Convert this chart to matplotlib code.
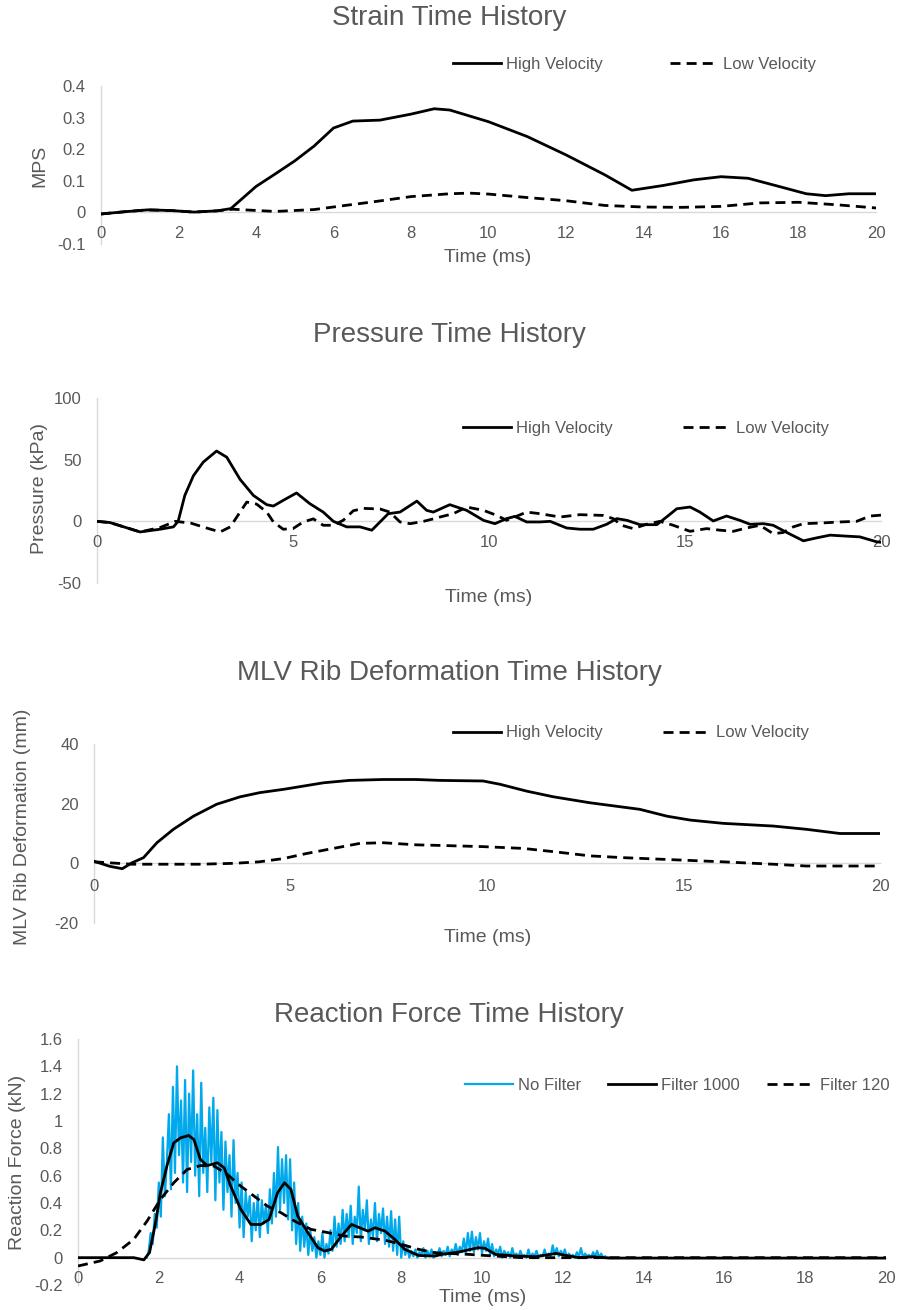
import numpy as np
import matplotlib
matplotlib.use("Agg")
import matplotlib.pyplot as plt
from matplotlib.transforms import Affine2D

plt.rcParams['font.family'] = ['Liberation Sans', 'DejaVu Sans']
plt.rcParams['axes.unicode_minus'] = False

TEXT = '#595959'
GRID = '#d9d9d9'
BLUE = '#00A8EC'

# ---------------- data ----------------
# Panel 1: Strain (MPS)
strain_t_high = [0, 0.6, 1.2, 1.8, 2.4, 3.0, 3.35, 4.0, 4.5, 5.0, 5.5, 6.0, 6.5, 7.2, 8.0, 8.6,
                 9.0, 10.0, 11.0, 12.0, 13.0, 13.7, 14.5, 15.3, 16.0, 16.7, 17.5, 18.2, 18.7, 19.3, 20.0]
strain_high = [-0.005, 0.002, 0.008, 0.006, 0.001, 0.005, 0.012, 0.082, 0.122, 0.163, 0.210, 0.267,
               0.289, 0.292, 0.311, 0.328, 0.324, 0.287, 0.240, 0.182, 0.119, 0.070, 0.085, 0.103,
               0.113, 0.108, 0.082, 0.059, 0.053, 0.059, 0.059]
strain_t_low = [0, 0.6, 1.2, 1.8, 2.4, 3.0, 3.4, 4.5, 5.5, 6.3, 7.0, 8.0, 9.0, 9.5, 10.0, 11.0,
                12.0, 13.0, 14.0, 15.0, 16.0, 17.0, 18.0, 19.0, 20.0]
strain_low = [-0.005, 0.002, 0.008, 0.006, 0.001, 0.005, 0.010, 0.003, 0.009, 0.022, 0.033, 0.050,
              0.059, 0.061, 0.058, 0.047, 0.037, 0.022, 0.017, 0.016, 0.019, 0.030, 0.032, 0.024, 0.014]

# Panel 2: Pressure (kPa)
press_t_high = [0, 0.33, 1.1, 1.61, 1.95, 2.07, 2.24, 2.46, 2.71, 3.05, 3.31, 3.65, 3.99, 4.33, 4.5,
                4.75, 5.09, 5.43, 5.77, 6.03, 6.37, 6.71, 7.01, 7.22, 7.43, 7.73, 8.16, 8.41, 8.58,
                9.0, 9.43, 9.86, 10.15, 10.45, 10.66, 10.96, 11.3, 11.56, 11.98, 12.32, 12.66, 13.0,
                13.26, 13.52, 13.85, 14.28, 14.53, 14.79, 15.13, 15.38, 15.72, 16.06, 16.4, 16.66,
                17.0, 17.25, 17.6, 18.02, 18.36, 18.7, 19.12, 19.46, 19.89, 20.0]
press_high = [0, -1, -8.6, -6.4, -4.5, 0, 21, 37, 48, 57, 52, 34, 21, 13.5, 12.4,
              17, 23, 14.3, 7.5, 0, -4.5, -4.5, -7.2, -0.5, 6.2, 7.5, 16.4, 8.9, 7.5,
              13.5, 8.9, 0.8, -1.9, 2.2, 4.0, -0.5, -0.5, 0, -5.4, -6.4, -6.4, -2.4,
              2.2, 0.8, -2.7, -2.7, 3.5, 10.2, 11.6, 7.5, 0.3, 4.3, 0.8, -2.4,
              -1.9, -3.2, -9.1, -15.8, -13.4, -11.2, -12.0, -12.6, -16.6, -17.0]
press_t_low = [0, 0.33, 1.1, 1.61, 2.0, 2.4, 2.75, 3.14, 3.4, 3.65, 3.82, 4.07, 4.33, 4.5, 4.75,
               5.0, 5.26, 5.52, 5.77, 6.03, 6.28, 6.54, 6.8, 7.22, 7.47, 7.73, 7.99, 8.33, 8.58,
               8.75, 9.09, 9.43, 9.86, 10.2, 10.45, 10.96, 11.3, 11.81, 12.32, 12.91, 13.17, 13.38,
               13.68, 14.02, 14.36, 14.7, 15.13, 15.55, 15.9, 16.23, 16.57, 16.91, 17.25, 17.5,
               17.76, 18.02, 18.45, 18.96, 19.38, 19.72, 20.0]
press_low = [0, -1, -8.6, -5.0, 0, -1.5, -5.0, -8.6, -4.5, 7.5, 15.6, 14.0, 7.5, -0.5, -6.4,
             -5.9, -0.5, 2.0, -3.2, -3.2, 0.8, 8.6, 10.5, 10.0, 7.5, -0.5, -1.9, 0, 2.0,
             3.5, 6.2, 11.6, 8.9, 4.8, 0.8, 7.5, 6.2, 3.5, 5.4, 4.8, 2.2, -3.2,
             -5.9, -2.4, 0, -3.2, -8.1, -5.9, -7.2, -8.1, -5.4, -3.2, -10.0, -9.1,
             -4.5, -1.9, -1.4, -0.5, 0, 4.3, 5.0]

# Panel 3: MLV rib deformation (mm)
rib_t_high = [0, 0.4, 0.72, 0.97, 1.26, 1.6, 2.02, 2.53, 3.12, 3.72, 4.22, 4.82, 5.24, 5.84, 6.5,
              7.36, 8.2, 8.8, 9.9, 10.33, 11.01, 11.69, 12.62, 13.89, 14.58, 15.17, 16.01, 17.28,
              18.13, 18.98, 20.0]
rib_high = [0.7, -1.0, -1.8, 0.2, 1.9, 6.9, 11.4, 15.8, 19.8, 22.3, 23.7, 24.8, 25.7, 27.0, 27.8,
            28.1, 28.1, 27.8, 27.6, 26.5, 24.2, 22.3, 20.3, 18.1, 15.8, 14.5, 13.4, 12.5,
            11.4, 10.0, 10.0]
rib_t_low = [0, 0.97, 2.7, 3.55, 4.2, 4.82, 5.41, 6.09, 6.77, 7.36, 8.2, 8.8, 9.9, 10.92, 11.77,
             12.62, 13.47, 14.75, 16.01, 17.28, 18.13, 20.0]
rib_low = [0.5, -0.3, -0.3, 0, 0.5, 1.6, 3.3, 5.0, 6.7, 6.9, 6.2, 6.0, 5.6, 5.0, 3.8,
           2.5, 1.9, 1.2, 0.5, -0.3, -0.9, -0.9]

# Panel 4: Reaction force (kN)
nofilter_start = 1.70   # ms, first sample shown
nofilter_step = 0.05    # ms between samples
nofilter = [
    0.00, 0.05, 0.18, 0.10, 0.32, 0.22, 0.55, 0.30, 0.88, 0.45,
    0.70, 1.05, 0.50, 1.25, 0.62, 1.40, 0.75, 1.15, 0.55, 1.30,
    0.48, 1.20, 0.70, 1.37, 0.60, 1.05, 0.45, 1.28, 0.62, 0.95,
    0.48, 1.10, 0.70, 1.17, 0.42, 1.08, 0.55, 0.92, 0.35, 0.85,
    0.48, 0.75, 0.30, 0.86, 0.40, 0.62, 0.22, 0.55, 0.15, 0.48,
    0.30, 0.45, 0.12, 0.40, 0.20, 0.46, 0.15, 0.42, 0.25, 0.38,
    0.18, 0.50, 0.25, 0.62, 0.30, 0.81, 0.35, 0.72, 0.40, 0.75,
    0.28, 0.72, 0.20, 0.55, 0.10, 0.40, 0.05, 0.30, 0.08, 0.25,
    0.02, 0.20, 0.05, 0.15, 0.00, 0.12, 0.02, 0.18, 0.00, 0.10,
    0.03, 0.20, 0.05, 0.30, 0.08, 0.25, 0.10, 0.35, 0.12, 0.32,
    0.15, 0.38, 0.10, 0.30, 0.18, 0.52, 0.12, 0.35, 0.20, 0.42,
    0.10, 0.28, 0.15, 0.40, 0.12, 0.32, 0.18, 0.36, 0.10, 0.30,
    0.08, 0.34, 0.05, 0.28, 0.02, 0.30, 0.00, 0.12, 0.02, 0.08,
    0.00, 0.05, 0.01, 0.06, 0.00, 0.04, 0.02, 0.07, 0.00, 0.05,
    0.01, 0.06, 0.00, 0.04, 0.02, 0.07, 0.01, 0.05, 0.02, 0.08,
    0.01, 0.06, 0.03, 0.10, 0.02, 0.08, 0.04, 0.14, 0.03, 0.18,
    0.05, 0.19, 0.04, 0.15, 0.06, 0.18, 0.03, 0.12, 0.05, 0.14,
    0.02, 0.10, 0.01, 0.06, 0.03, 0.08, 0.00, 0.05, 0.02, 0.04,
    0.00, 0.07, 0.01, 0.03, 0.00, 0.05, 0.01, 0.02, 0.00, 0.06,
    0.00, 0.03, 0.01, 0.05, 0.00, 0.02, 0.01, 0.06, 0.00, 0.03,
    0.01, 0.09, 0.02, 0.07, 0.01, 0.05, 0.02, 0.06, 0.00, 0.03,
    0.01, 0.02, 0.00, 0.04, 0.01, 0.07, 0.00, 0.03, 0.01, 0.02,
    0.00, 0.04, 0.01, 0.05, 0.00, 0.03, 0.00, 0.01, 0.00, 0.00,
]
f1000_t = [0, 0.8, 1.38, 1.63, 1.77, 1.92, 2.04, 2.2, 2.37, 2.54, 2.74, 2.87, 3.03, 3.2, 3.45,
           3.62, 3.78, 4.03, 4.28, 4.53, 4.73, 4.94, 5.11, 5.27, 5.44, 5.69, 5.94, 6.1, 6.27,
           6.52, 6.77, 7.18, 7.35, 7.6, 7.84, 8.09, 8.43, 8.84, 9.0, 9.42, 9.91, 10.08, 10.33,
           10.83, 11.33, 11.83, 12.08, 12.4, 12.74, 13.15, 20.0]
f1000 = [0, 0, 0, -0.016, 0.037, 0.256, 0.475, 0.67, 0.84, 0.877, 0.894, 0.864, 0.718, 0.674,
         0.694, 0.657, 0.523, 0.353, 0.243, 0.243, 0.28, 0.475, 0.548, 0.5, 0.304, 0.183, 0.073,
         0.049, 0.061, 0.158, 0.243, 0.194, 0.219, 0.194, 0.134, 0.061, 0.016, 0.012, 0.024,
         0.041, 0.073, 0.068, 0.024, 0.012, 0.007, 0.031, 0.016, 0.0, 0.007, -0.003, -0.003]
f120_t = [0, 0.55, 0.96, 1.38, 1.71, 2.04, 2.37, 2.7, 3.03, 3.37, 3.7, 4.03, 4.36, 4.69, 5.03,
          5.36, 5.77, 6.19, 6.6, 7.01, 7.6, 8.01, 8.43, 8.84, 9.67, 10.08, 11.0, 20.0]
f120 = [-0.061, -0.024, 0.037, 0.134, 0.268, 0.426, 0.548, 0.645, 0.674, 0.67, 0.608, 0.523,
        0.45, 0.377, 0.328, 0.268, 0.207, 0.183, 0.158, 0.151, 0.128, 0.097, 0.061, 0.036,
        0.024, 0.016, 0.0, 0.0]

# ---------------- figure ----------------
W, H = 898, 1310
fig = plt.figure(figsize=(W / 100, H / 100), dpi=100)
PX = Affine2D().scale(1 / W, -1 / H).translate(0, 1) + fig.transFigure


def make_axes(l, r, t, b):
    return fig.add_axes([l / W, 1 - b / H, (r - l) / W, (b - t) / H])


def style(ax, xlim, xticks, ylim, yticks, ylabels, xpad=9.5, ypad=11):
    ax.set_xlim(*xlim)
    ax.set_ylim(*ylim)
    ax.set_xticks(xticks, [str(v) for v in xticks])
    ax.set_yticks(yticks, ylabels)
    for s in ['top', 'right']:
        ax.spines[s].set_visible(False)
    ax.spines['bottom'].set_position(('data', 0))
    for s in ['left', 'bottom']:
        ax.spines[s].set_color(GRID)
        ax.spines[s].set_linewidth(1.0)
        ax.spines[s].set_zorder(0.5)
    ax.tick_params(length=0, labelsize=12, labelcolor=TEXT)
    ax.tick_params(axis='x', pad=xpad)
    ax.tick_params(axis='y', pad=ypad)
    ax.patch.set_alpha(0)


def labels(ax, xl, xpos, yl, ypos):
    ax.set_xlabel(xl, fontsize=14, color=TEXT, va='center', ha='center')
    ax.xaxis.set_label_coords(xpos[0], xpos[1], transform=PX)
    ax.set_ylabel(yl, fontsize=14, color=TEXT, va='center', ha='center')
    ax.yaxis.set_label_coords(ypos[0], ypos[1], transform=PX)


def legend(ax, x, y, colsp, ncol=2):
    ax.legend(loc='center left', bbox_to_anchor=(x, y), bbox_transform=PX, ncol=ncol,
              frameon=False, fontsize=12, handlelength=2.9, handletextpad=0.3,
              columnspacing=colsp, borderpad=0, borderaxespad=0, labelcolor=TEXT)


def title(text, y):
    fig.text(449, y, text, transform=PX, ha='center', va='center', fontsize=20, color=TEXT)


DASH = (3.6, 2.2)
LW = 2.0

# Panel 1
ax1 = make_axes(101, 876, 86, 244)
ax1.plot(strain_t_high, strain_high, color='black', lw=LW, label='High Velocity')
ax1.plot(strain_t_low, strain_low, color='black', lw=LW, dashes=DASH, label='Low Velocity')
style(ax1, (0, 20), list(range(0, 21, 2)), (-0.1, 0.4), [-0.1, 0, 0.1, 0.2, 0.3, 0.4],
      ['-0.1', '0', '0.1', '0.2', '0.3', '0.4'])
labels(ax1, 'Time (ms)', (488, 258), 'MPS', (40, 166))
legend(ax1, 453, 64, 4.0)
title('Strain Time History', 18)

# Panel 2
ax2 = make_axes(97, 881, 398, 583)
ax2.plot(press_t_high, press_high, color='black', lw=LW, label='High Velocity')
ax2.plot(press_t_low, press_low, color='black', lw=LW, dashes=DASH, label='Low Velocity')
style(ax2, (0, 20), [0, 5, 10, 15, 20], (-50, 100), [-50, 0, 50, 100],
      ['-50', '0', '50', '100'])
labels(ax2, 'Time (ms)', (489, 598), 'Pressure (kPa)', (40, 488))
legend(ax2, 463, 428, 4.2)
title('Pressure Time History', 335)

# Panel 3
ax3 = make_axes(94, 880, 744, 923)
ax3.plot(rib_t_high, rib_high, color='black', lw=LW, label='High Velocity')
ax3.plot(rib_t_low, rib_low, color='black', lw=LW, dashes=DASH, label='Low Velocity')
style(ax3, (0, 20), [0, 5, 10, 15, 20], (-20, 40), [-20, 0, 20, 40],
      ['-20', '0', '20', '40'], xpad=11)
labels(ax3, 'Time (ms)', (488, 938), 'MLV Rib Deformation (mm)', (23, 827))
legend(ax3, 453, 733, 3.6)
title('MLV Rib Deformation Time History', 673)

# Panel 4
ax4 = make_axes(78, 886, 1039, 1285)
t_nf = nofilter_start + nofilter_step * np.arange(len(nofilter))
ax4.plot(t_nf, nofilter, color=BLUE, lw=1.6, label='No Filter')
ax4.plot(f1000_t, f1000, color='black', lw=LW, label='Filter 1000', zorder=4)
ax4.plot(f120_t, f120, color='black', lw=LW, dashes=DASH, label='Filter 120', zorder=3)
yt = [-0.2, 0, 0.2, 0.4, 0.6, 0.8, 1.0, 1.2, 1.4, 1.6]
style(ax4, (0, 20), list(range(0, 21, 2)), (-0.2, 1.6), yt,
      ['-0.2', '0', '0.2', '0.4', '0.6', '0.8', '1', '1.2', '1.4', '1.6'])
labels(ax4, 'Time (ms)', (483, 1298), 'Reaction Force (kN)', (18, 1162))
legend(ax4, 465, 1085, 1.6, ncol=3)
title('Reaction Force Time History', 1015)

fig.savefig('out.png', dpi=100)
